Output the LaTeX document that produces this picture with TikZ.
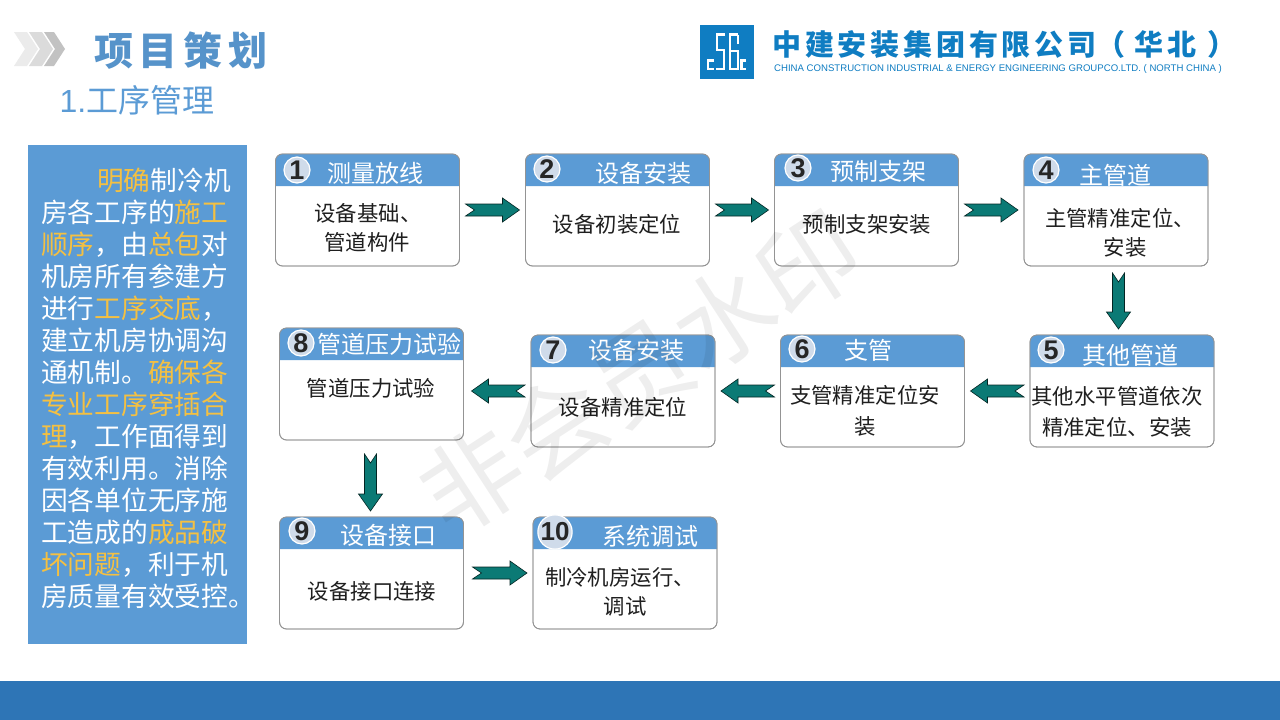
\documentclass[tikz,border=0pt]{standalone}
\usepackage{fontspec}
\setmainfont{Noto Sans CJK SC}
\newfontfamily\latinf{Liberation Sans}
\usetikzlibrary{calc}
\definecolor{hdr}{HTML}{5B9BD5}
\definecolor{foot}{HTML}{2E75B6}
\definecolor{gold}{HTML}{F4C042}
\definecolor{arrowteal}{HTML}{0B7A75}
\definecolor{logoblue}{HTML}{0F7DC2}
\definecolor{numfill}{HTML}{CFDBEA}
\newcommand{\hl}[1]{\textcolor{gold}{#1}}
\newcommand{\lgap}{\hspace{3.8pt}}
\tikzset{
  x=1pt,y=-1pt,
  cardbox/.style={draw=black!42,line width=.8pt,rounded corners=7pt,minimum width=184pt,minimum height=112pt,inner sep=0pt,outer sep=0pt,fill=white},
  numdot/.style={circle,draw=white,line width=1.2pt,fill=numfill,minimum size=26pt,inner sep=0pt,font=\latinf\bfseries\fontsize{27}{27}\selectfont,text=black!85},
  titletext/.style={text=white,inner sep=0pt,font=\fontsize{24}{26}\selectfont},
  bodytext/.style={text=black!88,inner sep=0pt,font=\fontsize{21.4}{24}\selectfont},
  flow/.style={draw=black!70!arrowteal,line width=.6pt,fill=arrowteal,
    to path={
      coordinate (fs) at ($(\tikztostart)!#1!(\tikztotarget)$)
      coordinate (ft) at ($(\tikztotarget)!#1!(\tikztostart)$)
      coordinate (fn) at ($(ft)!17pt!(fs)$)
      ($(fs)!6pt!90:(ft)$) -- ($(fs)!9pt!(ft)$) -- ($(fs)!6pt!-90:(ft)$)
      -- ($(fn)!6pt!-90:(ft)$) -- ($(fn)!12pt!-90:(ft)$) -- (ft)
      -- ($(fn)!12pt!90:(ft)$) -- ($(fn)!6pt!90:(ft)$) -- cycle}},
  flow/.default=6pt
}
% card: id, centre x, centre y
\newcommand{\card}[3]{%
  \node[cardbox] (#1) at (#2,#3) {};
  \fill[hdr] ($(#1.north west)+(0,32)$) [rounded corners=7pt] -- (#1.north west) -- (#1.north east) [sharp corners] -- ($(#1.north east)+(0,32)$) -- cycle;
  \draw[black!42,line width=.8pt,rounded corners=7pt] (#1.north west) rectangle (#1.south east);
}
\begin{document}
\begin{tikzpicture}
\useasboundingbox (0,0) rectangle (1280,720);
\fill[white] (0,0) rectangle (1280,720);
\node[fill=foot,minimum width=1280pt,minimum height=39pt,inner sep=0pt,outer sep=0pt] (footer) at (640,700.5) {};

% chevrons
\fill[black!8] (14,32) -- (27,32) -- (38,49) -- (27,66) -- (14,66) -- (25,49) -- cycle;
\fill[black!14] (29,32) -- (42,32) -- (53,49) -- (42,66) -- (29,66) -- (40,49) -- cycle;
\fill[black!24] (44,32) -- (54,32) -- (65,49) -- (54,66) -- (44,66) -- (55,49) -- cycle;

\node[text=hdr!95!black,inner sep=0pt,font=\bfseries\fontsize{39}{41}\selectfont] (maintitle) at (181,50.5) {项\hspace{6pt}目\hspace{6pt}策\hspace{6pt}划};
\node[text=hdr,inner sep=0pt,font=\fontsize{32}{34}\selectfont] (subtitle) at (137,100) {{\latinf 1.}工序管理};

% logo
\node[fill=logoblue,minimum size=54pt,inner sep=0pt,outer sep=0pt] (logo) at (727,51.5) {};
\begin{scope}[white,line width=2.2pt]
  \draw (714,60.5) -- (708,60.5) -- (708,69) -- (714,69);
  \draw (725,34.5) -- (717,34.5) -- (717,50) -- (724,50) -- (724,69) -- (716,69);
  \draw (738,34.5) -- (730,34.5) -- (730,69) -- (738,69) -- (738,51) -- (730,51);
  \draw (738,44) -- (738,34.5);
  \draw (746,60.5) -- (741.5,60.5) -- (741.5,69) -- (746,69);
\end{scope}
\node[text=logoblue,anchor=west,inner sep=0pt,font=\bfseries\fontsize{29}{31}\selectfont] (logotext) at (772,44) {中\lgap 建\lgap 安\lgap 装\lgap 集\lgap 团\lgap 有\lgap 限\lgap 公\lgap 司（\hspace{9pt}华\lgap 北\hspace{11pt}）};
\node[text=logoblue,anchor=west,inner sep=0pt,font=\latinf\fontsize{9.6}{10}\selectfont] (logoen) at (774,69.5) {CHINA CONSTRUCTION INDUSTRIAL \& ENERGY ENGINEERING GROUPCO.LTD. ( NORTH CHINA )};

% left panel
\node[fill=hdr,minimum width=219pt,minimum height=499pt,inner sep=0pt,outer sep=0pt] (panel) at (137.5,394.5) {};
\node[anchor=north west,inner sep=0pt,align=left,text=white,font=\fontsize{26.7}{32}\selectfont] (paneltext) at (41,168) {%
\hspace*{56pt}\hl{明确}制冷机\\
房各工序的\hl{施工}\\
\hl{顺序}，由\hl{总包}对\\
机房所有参建方\\
进行\hl{工序交底}，\\
建立机房协调沟\\
通机制。\hl{确保各}\\
\hl{专业工序穿插合}\\
\hl{理}，工作面得到\\
有效利用。消除\\
因各单位无序施\\
工造成的\hl{成品破}\\
\hl{坏问题}，利于机\\
房质量有效受控。};

% cards
\card{c1}{367.5}{210}
\card{c2}{617.5}{210}
\card{c3}{866.5}{210}
\card{c4}{1116}{210}
\card{c5}{1122}{391}
\card{c6}{872.5}{391}
\card{c7}{623}{391}
\card{c8}{371.5}{384}
\card{c9}{371.5}{573}
\card{c10}{625}{573}

% numbers
\node[numdot] (n1) at (297,170) {1};
\node[numdot] (n2) at (547,169) {2};
\node[numdot] (n3) at (798,168) {3};
\node[numdot] (n4) at (1046,170) {4};
\node[numdot] (n5) at (1051,350) {5};
\node[numdot] (n6) at (802,349) {6};
\node[numdot] (n7) at (553,350) {7};
\node[numdot] (n8) at (301,343) {8};
\node[numdot] (n9) at (302,531) {9};
\node[numdot,font=\latinf\bfseries\fontsize{26}{26}\selectfont] (n10) at (555,532) {10};

% titles
\node[titletext] (t1) at (375,173) {测量放线};
\node[titletext] (t2) at (643,173) {设备安装};
\node[titletext] (t3) at (878,171) {预制支架};
\node[titletext] (t4) at (1115,175) {主管道};
\node[titletext] (t5) at (1130,355) {其他管道};
\node[titletext] (t6) at (868,350) {支管};
\node[titletext] (t7) at (636,350) {设备安装};
\node[titletext] (t8) at (389,344) {管道压力试验};
\node[titletext] (t9) at (388,535) {设备接口};
\node[titletext] (t10) at (650,536) {系统调试};

% bodies
\node[bodytext] (b1a) at (368,213) {设备基础、};
\node[bodytext] (b1b) at (367,242) {管道构件};
\node[bodytext] (b2) at (617,224) {设备初装定位};
\node[bodytext] (b3) at (867,224) {预制支架安装};
\node[bodytext] (b4a) at (1120,218) {主管精准定位、};
\node[bodytext] (b4b) at (1125,247) {安装};
\node[bodytext] (b5a) at (1117,396) {其他水平管道依次};
\node[bodytext] (b5b) at (1117,427) {精准定位、安装};
\node[bodytext] (b6a) at (865,395) {支管精准定位安};
\node[bodytext] (b6b) at (865,426) {装};
\node[bodytext] (b7) at (623,407) {设备精准定位};
\node[bodytext] (b8) at (371,388) {管道压力试验};
\node[bodytext] (b9) at (372,591) {设备接口连接};
\node[bodytext] (b10a) at (620,577) {制冷机房运行、};
\node[bodytext] (b10b) at (625,606) {调试};

% connectors
\draw[flow] (c1.east) to (c2.west);
\draw[flow] (c2.east) to (c3.west);
\draw[flow] (c3.east) to (c4.west);
\draw[flow] ($(c4.south)+(2.5,1)$) to ($(c5.north)+(-3.5,0)$);
\draw[flow] (c5.west) to (c6.east);
\draw[flow] (c6.west) to (c7.east);
\draw[flow] (c7.west) to ($(c7.west -| c8.east)+(2,0)$);
\draw[flow] ($(c8.south)+(-1,8)$) to ($(c9.north)+(-1,0)$);
\draw[flow] ($(c9.east)+(3,0)$) to (c10.west);

% watermark
\node[rotate=33,text=black,opacity=.065,inner sep=0pt,font=\fontsize{100}{100}\selectfont] (mark) at (640,372) {非会员水印};
\end{tikzpicture}
\end{document}
